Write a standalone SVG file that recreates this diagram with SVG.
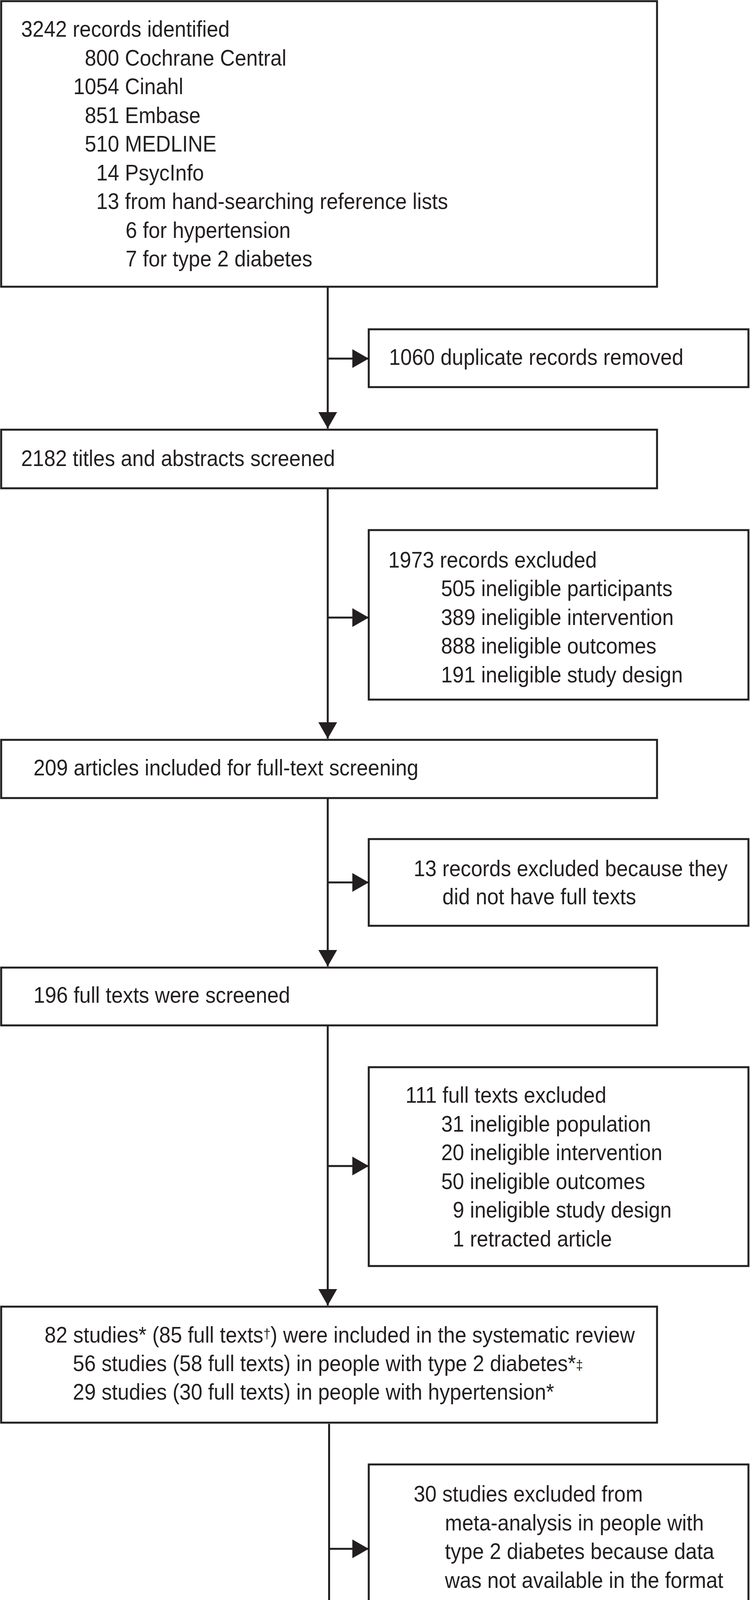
<svg xmlns="http://www.w3.org/2000/svg" width="1920" height="4442" viewBox="0 0 1920 4442">
<defs>
<style>
.box{fill:#ffffff;stroke:#231f20;stroke-width:5}
.txt text{font-family:"Liberation Sans",Arial,sans-serif;font-size:58px;fill:#231f20}
.con{fill:none;stroke:#231f20;stroke-width:5}
.sm{font-size:36px}
</style>
<marker id="ah" markerUnits="userSpaceOnUse" markerWidth="42" markerHeight="48" refX="42" refY="24" orient="auto" viewBox="0 0 42 48">
<path d="M0,0 L42,24 L0,48 Z" fill="#231f20"/>
</marker>
</defs>
<rect width="1920" height="4442" fill="#ffffff"/>

<g id="connectors">
<path class="con" d="M839 736 V1097" marker-end="url(#ah)"/>
<path class="con" d="M839 918 H944" marker-end="url(#ah)"/>
<path class="con" d="M839 1252 V1891" marker-end="url(#ah)"/>
<path class="con" d="M839 1581 H944" marker-end="url(#ah)"/>
<path class="con" d="M839 2045 V2474" marker-end="url(#ah)"/>
<path class="con" d="M839 2259 H944" marker-end="url(#ah)"/>
<path class="con" d="M839 2627 V3342" marker-end="url(#ah)"/>
<path class="con" d="M839 2985 H944" marker-end="url(#ah)"/>
<path class="con" d="M842.5 3645 V4287" marker-end="url(#ah)"/>
<path class="con" d="M842.5 3965 H944" marker-end="url(#ah)"/>
</g>

<g id="n-identified">
<rect class="box" x="3" y="3" width="1679" height="731"/>
<g class="txt" transform="scale(0.91 1)">
<text x="59.34" y="94.5">3242 records identified</text>
<text x="238.46" y="168">800 Cochrane Central</text>
<text x="206.26" y="241.5">1054 Cinahl</text>
<text x="238.46" y="315">851 Embase</text>
<text x="238.46" y="388.5">510 MEDLINE</text>
<text x="270.88" y="462">14 PsycInfo</text>
<text x="270.88" y="535.5">13 from hand-searching reference lists</text>
<text x="353.3" y="609">6 for hypertension</text>
<text x="353.3" y="682.5">7 for type 2 diabetes</text>
</g>
</g>

<g id="n-duplicates">
<rect class="box" x="944" y="843" width="972" height="148"/>
<g class="txt" transform="scale(0.91 1)">
<text x="1094.18" y="934">1060 duplicate records removed</text>
</g>
</g>

<g id="n-screened">
<rect class="box" x="3" y="1100" width="1679" height="150"/>
<g class="txt" transform="scale(0.91 1)">
<text x="59.34" y="1193.5">2182 titles and abstracts screened</text>
</g>
</g>

<g id="n-excluded1">
<rect class="box" x="944" y="1357" width="972" height="434"/>
<g class="txt" transform="scale(0.91 1)">
<text x="1092.31" y="1453">1973 records excluded</text>
<text x="1240.66" y="1526.5">505 ineligible participants</text>
<text x="1240.66" y="1600">389 ineligible intervention</text>
<text x="1240.66" y="1673.5">888 ineligible outcomes</text>
<text x="1240.66" y="1747">191 ineligible study design</text>
</g>
</g>

<g id="n-fulltext">
<rect class="box" x="3" y="1894" width="1679" height="149"/>
<g class="txt" transform="scale(0.91 1)">
<text x="94.18" y="1985.5">209 articles included for full-text screening</text>
</g>
</g>

<g id="n-excluded2">
<rect class="box" x="944" y="2148" width="972" height="222"/>
<g class="txt" transform="scale(0.91 1)">
<text x="1163.74" y="2243">13 records excluded because they</text>
<text x="1244.62" y="2315">did not have full texts</text>
</g>
</g>

<g id="n-fullscreened">
<rect class="box" x="3" y="2477" width="1679" height="148"/>
<g class="txt" transform="scale(0.91 1)">
<text x="94.18" y="2567">196 full texts were screened</text>
</g>
</g>

<g id="n-excluded3">
<rect class="box" x="944" y="2732" width="972" height="509"/>
<g class="txt" transform="scale(0.91 1)">
<text x="1140.66" y="2823">111 full texts excluded</text>
<text x="1241.21" y="2897">31 ineligible population</text>
<text x="1241.21" y="2970.5">20 ineligible intervention</text>
<text x="1241.21" y="3044">50 ineligible outcomes</text>
<text x="1273.63" y="3117.5">9 ineligible study design</text>
<text x="1273.63" y="3191">1 retracted article</text>
</g>
</g>

<g id="n-included">
<rect class="box" x="3" y="3345" width="1679" height="297"/>
<g class="txt" transform="scale(0.91 1)">
<text x="125.27" y="3437">82 studies* (85 full texts<tspan class="sm" baseline-shift="10">†</tspan>) were included in the systematic review</text>
<text x="205.05" y="3510">56 studies (58 full texts) in people with type 2 diabetes*<tspan class="sm" baseline-shift="3">‡</tspan></text>
<text x="205.05" y="3583">29 studies (30 full texts) in people with hypertension*</text>
</g>
</g>

<g id="n-excluded4">
<rect class="box" x="944" y="3749" width="972" height="432"/>
<g class="txt" transform="scale(0.91 1)">
<text x="1163.74" y="3844.5">30 studies excluded from</text>
<text x="1251.65" y="3918">meta-analysis in people with</text>
<text x="1251.65" y="3991.5">type 2 diabetes because data</text>
<text x="1251.65" y="4065">was not available in the format</text>
<text x="1251.65" y="4138.5">required</text>
</g>
</g>

<g id="n-meta">
<rect class="box" x="3" y="4290" width="1679" height="148"/>
<g class="txt" transform="scale(0.91 1)">
<text x="123.85" y="4389">26 studies included in meta-analysis in people with type 2 diabetes</text>
</g>
</g>
</svg>
